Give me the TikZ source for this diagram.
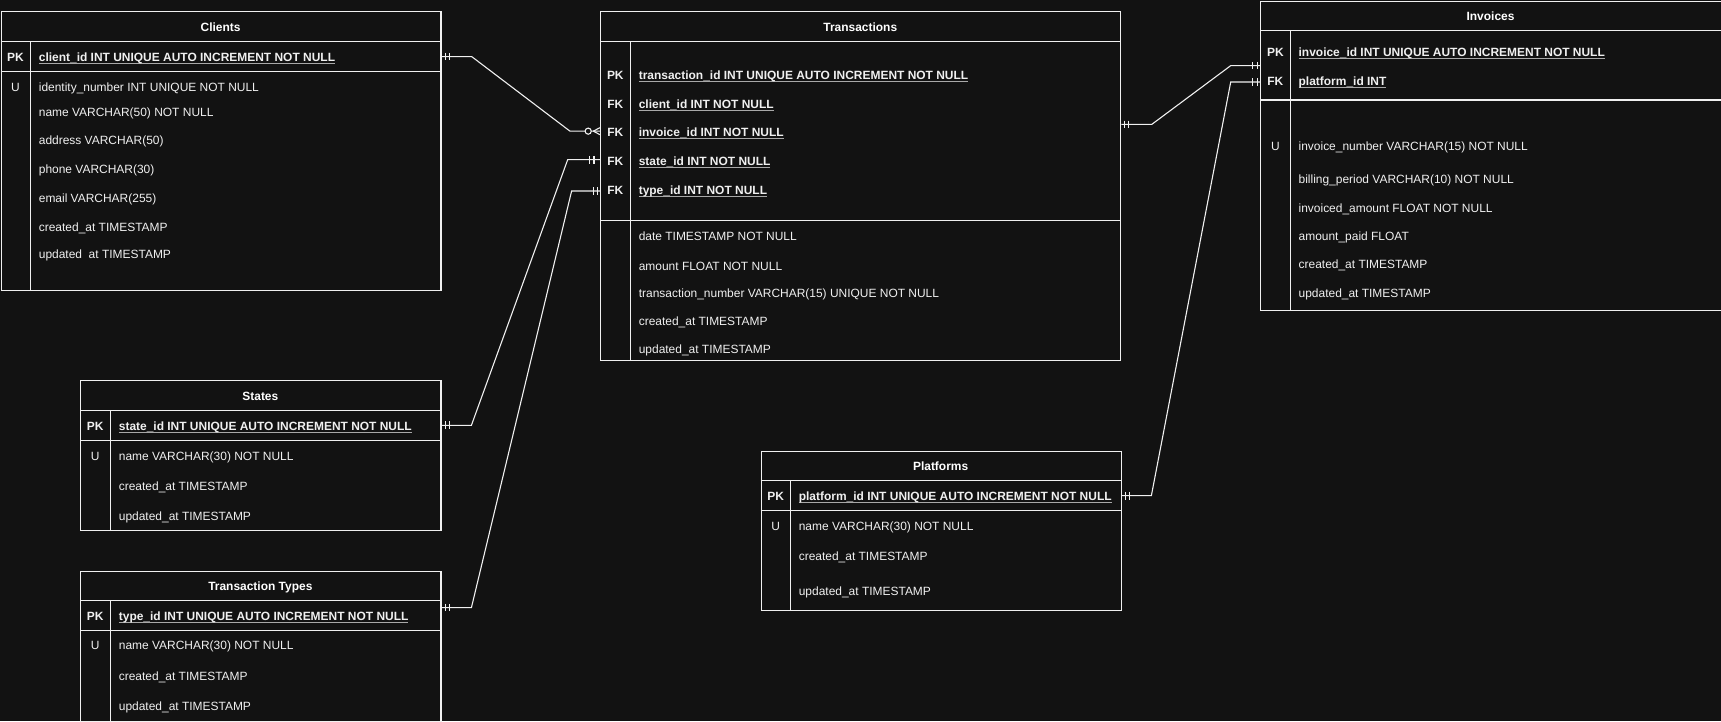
\documentclass[tikz,border=0pt]{standalone}
\usepackage{fontspec}
\setmainfont{Liberation Sans}
\usetikzlibrary{calc}
\definecolor{bg}{HTML}{121212}
\definecolor{fg}{HTML}{F0F0F0}
\definecolor{ulg}{HTML}{A8A8A8}
\newcommand\ulk[1]{\setbox0=\hbox{#1}\rlap{\textcolor{ulg}{\rule[-2.3bp]{\wd0}{0.9bp}}}\box0}
\newcommand\mybars[3]{\draw[conn] ($(#1)+(#2,-3.5)$) -- ++(0,7); \draw[conn] ($(#1)+(#3,-3.5)$) -- ++(0,7);}
\begin{document}
\begin{tikzpicture}[x=1bp,y=-1bp,
  box/.style={draw=fg, line width=1bp, inner sep=0, anchor=north west},
  sepl/.style={draw=fg, line width=1bp},
  rowt/.style={text=fg, font=\fontsize{10.9bp}{13bp}\selectfont, inner sep=0, anchor=base west},
  keyrow/.style={rowt, font=\fontsize{10.9bp}{13bp}\selectfont\bfseries},
  keyt/.style={text=fg, font=\fontsize{10.9bp}{13bp}\selectfont\bfseries, inner sep=0, anchor=base},
  ukey/.style={text=fg, font=\fontsize{10.9bp}{13bp}\selectfont, inner sep=0, anchor=base},
  ttl/.style={text=white, font=\fontsize{10.9bp}{13bp}\selectfont\bfseries, inner sep=0, anchor=base},
  conn/.style={draw=fg, line width=1bp}]
\fill[bg] (0,0) rectangle (1568,657);
\useasboundingbox (0,0) rectangle (1568,657);

% ---------------- Clients
\node[box, minimum width=400.8bp, minimum height=254.2bp] (clients) at (0.5,10.3) {};
\draw[sepl] (0.5,37.7) -- (401.3,37.7);
\draw[sepl] (0.5,65) -- (401.3,65);
\draw[sepl] (27.5,37.7) -- (27.5,264.5);
\node[ttl] (clt) at (201,24.3+4) {Clients};
\node[keyt] (clk1) at (14,51.6+4) {PK};
\node[keyrow] (clr1) at (35.2,51.6+4) {\ulk{client\_id INT UNIQUE AUTO INCREMENT NOT NULL}};
\node[ukey] (clk2) at (14,79+4) {U};
\node[rowt] (clr2) at (35.2,79+4) {identity\_number INT UNIQUE NOT NULL};
\node[rowt] (clr3) at (35.2,101.7+4) {name VARCHAR(50) NOT NULL};
\node[rowt] (clr4) at (35.2,127.3+4) {address VARCHAR(50)};
\node[rowt] (clr5) at (35.2,154+4) {phone VARCHAR(30)};
\node[rowt] (clr6) at (35.2,180.1+4) {email VARCHAR(255)};
\node[rowt] (clr7) at (35.2,206.5+4) {created\_at TIMESTAMP};
\node[rowt] (clr8) at (35.2,231.7+4) {updated\ \ at TIMESTAMP};

% ---------------- Transactions
\node[box, minimum width=473.6bp, minimum height=317.7bp] (trans) at (547,10.3) {};
\draw[sepl] (547,37.7) -- (1020.6,37.7);
\draw[sepl] (547,200.7) -- (1020.6,200.7);
\draw[sepl] (574.2,37.7) -- (574.2,328);
\node[ttl] (trt) at (783.8,24.3+4) {Transactions};
\node[keyt] (trk1) at (560.6,68+4) {PK};
\node[keyt] (trk2) at (560.6,94.5+4) {FK};
\node[keyt] (trk3) at (560.6,120+4) {FK};
\node[keyt] (trk4) at (560.6,146.4+4) {FK};
\node[keyt] (trk5) at (560.6,172.8+4) {FK};
\node[keyrow] (trr1) at (581.8,68+4) {\ulk{transaction\_id INT UNIQUE AUTO INCREMENT NOT NULL}};
\node[keyrow] (trr2) at (581.8,94.5+4) {\ulk{client\_id INT NOT NULL}};
\node[keyrow] (trr3) at (581.8,120+4) {\ulk{invoice\_id INT NOT NULL}};
\node[keyrow] (trr4) at (581.8,146.4+4) {\ulk{state\_id INT NOT NULL}};
\node[keyrow] (trr5) at (581.8,172.8+4) {\ulk{type\_id INT NOT NULL}};
\node[rowt] (trr6) at (581.8,214.7+4) {date TIMESTAMP NOT NULL};
\node[rowt] (trr7) at (581.8,242+4) {amount FLOAT NOT NULL};
\node[rowt] (trr8) at (581.8,266.6+4) {transaction\_number VARCHAR(15) UNIQUE NOT NULL};
\node[rowt] (trr9) at (581.8,292.2+4) {created\_at TIMESTAMP};
\node[rowt] (trr10) at (581.8,318.3+4) {updated\_at TIMESTAMP};

% ---------------- Invoices (runs past the right edge)
\node[box, minimum width=426bp, minimum height=281.5bp] (inv) at (1148.3,0.9) {};
\draw[sepl] (1148.3,27.6) -- (1574.3,27.6);
\draw[sepl] (1148.3,91.1) -- (1574.3,91.1);
\draw[sepl] (1175.8,27.6) -- (1175.8,282.4);
\node[ttl] (invt) at (1358,14.3+4) {Invoices};
\node[keyt] (invk1) at (1162,47.1+4) {PK};
\node[keyt] (invk2) at (1162,73.5+4) {FK};
\node[ukey] (invk3) at (1162,132.7+4) {U};
\node[keyrow] (invr1) at (1183,47.1+4) {\ulk{invoice\_id INT UNIQUE AUTO INCREMENT NOT NULL}};
\node[keyrow] (invr2) at (1183,73.5+4) {\ulk{platform\_id INT}};
\node[rowt] (invr3) at (1183,132.7+4) {invoice\_number VARCHAR(15) NOT NULL};
\node[rowt] (invr4) at (1183,163.1+4) {billing\_period VARCHAR(10) NOT NULL};
\node[rowt] (invr5) at (1183,189.2+4) {invoiced\_amount FLOAT NOT NULL};
\node[rowt] (invr6) at (1183,214.7+4) {amount\_paid FLOAT};
\node[rowt] (invr7) at (1183,240.8+4) {created\_at TIMESTAMP};
\node[rowt] (invr8) at (1183,267.2+4) {updated\_at TIMESTAMP};

% ---------------- States
\node[box, minimum width=328.1bp, minimum height=136.7bp] (states) at (73.2,346.5) {};
\draw[sepl] (73.2,373.8) -- (401.3,373.8);
\draw[sepl] (73.2,401.5) -- (401.3,401.5);
\draw[sepl] (100.4,373.8) -- (100.4,483.2);
\node[ttl] (stt) at (237.2,360.5+4) {States};
\node[keyt] (stk1) at (86.8,387.8+4) {PK};
\node[ukey] (stk2) at (86.8,415.2+4) {U};
\node[keyrow] (str1) at (108.1,387.8+4) {\ulk{state\_id INT UNIQUE AUTO INCREMENT NOT NULL}};
\node[rowt] (str2) at (108.1,415.2+4) {name VARCHAR(30) NOT NULL};
\node[rowt] (str3) at (108.1,442.5+4) {created\_at TIMESTAMP};
\node[rowt] (str4) at (108.1,469.8+4) {updated\_at TIMESTAMP};

% ---------------- Transaction Types
\node[box, minimum width=328.1bp, minimum height=136.6bp] (types) at (73.2,519.9) {};
\draw[sepl] (73.2,547) -- (401.3,547);
\draw[sepl] (73.2,574.3) -- (401.3,574.3);
\draw[sepl] (100.4,547) -- (100.4,656.5);
\node[ttl] (tyt) at (237.2,533.6+4) {Transaction Types};
\node[keyt] (tyk1) at (86.8,560.9+4) {PK};
\node[ukey] (tyk2) at (86.8,588.2+4) {U};
\node[keyrow] (tyr1) at (108.1,560.9+4) {\ulk{type\_id INT UNIQUE AUTO INCREMENT NOT NULL}};
\node[rowt] (tyr2) at (108.1,588.2+4) {name VARCHAR(30) NOT NULL};
\node[rowt] (tyr3) at (108.1,615.6+4) {created\_at TIMESTAMP};
\node[rowt] (tyr4) at (108.1,642.9+4) {updated\_at TIMESTAMP};

% ---------------- Platforms
\node[box, minimum width=328bp, minimum height=145.4bp] (plat) at (693,410.6) {};
\draw[sepl] (693,437.9) -- (1021,437.9);
\draw[sepl] (693,465.3) -- (1021,465.3);
\draw[sepl] (720.4,437.9) -- (720.4,556);
\node[ttl] (plt) at (857,424.3+4) {Platforms};
\node[keyt] (plk1) at (706.7,451.6+4) {PK};
\node[ukey] (plk2) at (706.7,479+4) {U};
\node[keyrow] (plr1) at (727.6,451.6+4) {\ulk{platform\_id INT UNIQUE AUTO INCREMENT NOT NULL}};
\node[rowt] (plr2) at (727.6,479+4) {name VARCHAR(30) NOT NULL};
\node[rowt] (plr3) at (727.6,506.3+4) {created\_at TIMESTAMP};
\node[rowt] (plr4) at (727.6,538.2+4) {updated\_at TIMESTAMP};

% ---------------- connector end points
\coordinate (c1s) at (clients.east |- 0,51.6);
\coordinate (c1e) at (trans.west |- 0,119.5);
\coordinate (c2s) at (states.east |- 0,387.5);
\coordinate (c2e) at (trans.west |- 0,145.5);
\coordinate (c3s) at (types.east |- 0,553.6);
\coordinate (c3e) at (trans.west |- 0,174);
\coordinate (c4s) at (trans.east |- 0,113.3);
\coordinate (c4e) at (inv.west |- 0,59.8);
\coordinate (c5s) at (plat.east |- 0,451.6);
\coordinate (c5e) at (inv.west |- 0,74.7);

% ---------------- connectors
\draw[conn] (c1s) -- ($(c1s)+(27.5,0)$) -- ($(c1e)+(-27.7,0)$) -- (c1e);
\draw[conn] (c2s) -- ($(c2s)+(27.2,0)$) -- ($(c2e)+(-29.8,0)$) -- (c2e);
\draw[conn] (c3s) -- ($(c3s)+(27.2,0)$) -- ($(c3e)+(-26.2,0)$) -- (c3e);
\draw[conn] (c4s) -- ($(c4s)+(27.8,0)$) -- ($(c4e)+(-27,0)$) -- (c4e);
\draw[conn] (c5s) -- ($(c5s)+(27,0)$) -- ($(c5e)+(-27,0)$) -- (c5e);

% ---------------- cardinality marks
\mybars{c1s}{3.2}{7.2}
\mybars{c2s}{3.2}{7.2}
\mybars{c3s}{3.2}{7.2}
\mybars{c4s}{3.2}{6.8}
\mybars{c5s}{3.2}{6.8}
\mybars{c2e}{-10}{-5.8}
\mybars{c3e}{-6.5}{-3}
\mybars{c4e}{-7.2}{-3}
\mybars{c5e}{-7.2}{-3}
% zero or many
\draw[conn, fill=bg] ($(c1e)+(-11.1,0)$) circle[radius=2.8];
\draw[conn] ($(c1e)+(-6.4,0)$) -- ($(c1e)+(-0.4,-3.2)$);
\draw[conn] ($(c1e)+(-6.4,0)$) -- ($(c1e)+(-0.4,3.2)$);
\end{tikzpicture}
\end{document}
